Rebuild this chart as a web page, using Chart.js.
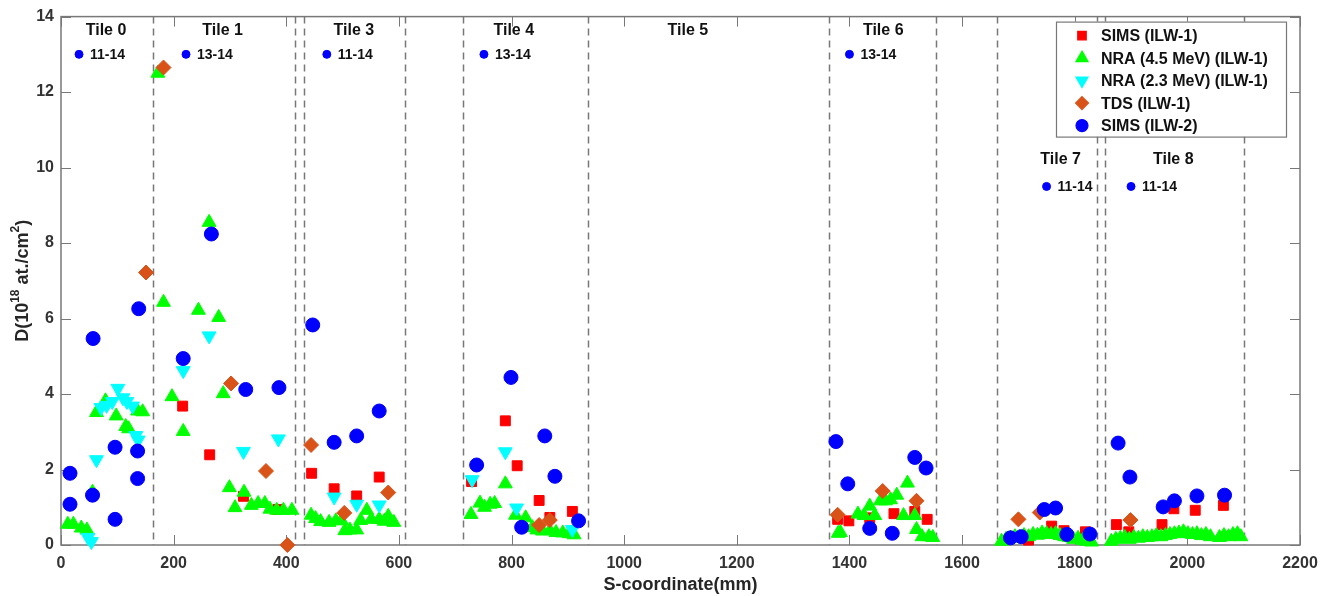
<!DOCTYPE html>
<html>
<head>
<meta charset="utf-8">
<script src="https://cdn.jsdelivr.net/npm/chart.js@4.4.0/dist/chart.umd.min.js"></script>
<style>
  html, body { margin: 0; padding: 0; background: #fff; }
</style>
</head>
<body>
<canvas id="chart" width="1328" height="596"></canvas>
<script>
// Values (S-coordinate in mm, D in 1e18 at./cm2)
const simsIlw1X = [216, 264, 324, 385, 445, 485, 525, 565, 729, 789, 810, 849, 868, 908,
    1379, 1399, 1436, 1479, 1516, 1538, 1718, 1759, 1781, 1819, 1874, 1896, 1955, 1976, 2014, 2064];
const simsIlw1Y = [3.68, 2.39, 1.29, 0.94, 1.90, 1.49, 1.30, 1.80, 1.68, 3.29, 2.10, 1.18, 0.73, 0.89,
    0.68, 0.64, 0.72, 0.83, 0.89, 0.68, 0.13, 0.50, 0.38, 0.35, 0.54, 0.35, 0.54, 0.96, 0.92, 1.05];

const nra45X = [12, 22, 36, 46, 56, 63, 79, 98, 115, 120, 136, 145,
    172, 182, 197, 217, 244, 263, 280, 288, 299, 309, 325, 338, 350, 362, 371, 383, 395, 410,
    444, 452, 461, 476, 488, 498, 504, 513, 525, 532, 543, 551, 565, 574, 581, 591,
    728, 744, 752, 762, 770, 789, 807, 825, 837, 845, 855, 868, 879, 891, 902, 911,
    1380, 1384, 1415, 1426, 1436, 1445, 1455, 1464, 1473, 1484, 1496, 1503, 1516, 1519, 1529, 1541, 1548,
    1670, 1678, 1686, 1694, 1702, 1710, 1718, 1726, 1734, 1742, 1750, 1758, 1766, 1774, 1782, 1790, 1798, 1806, 1814, 1822, 1830,
    1865, 1873, 1881, 1889, 1897, 1905, 1913, 1921, 1929, 1937, 1945, 1953, 1961, 1969, 1977, 1985, 1993, 2001, 2009, 2017, 2025, 2033, 2041, 2057, 2065, 2073, 2081, 2089, 2095];
const nra45Y = [0.55, 0.55, 0.45, 0.40, 1.40, 3.51, 3.82, 3.42, 3.14, 3.08, 3.55, 3.53,
    12.5, 6.43, 3.93, 3.01, 6.22, 8.55, 6.03, 4.01, 1.52, 0.99, 1.40, 1.05, 1.10, 1.10, 0.95, 0.92, 0.92, 0.92,
    0.79, 0.70, 0.62, 0.60, 0.64, 0.65, 0.38, 0.40, 0.40, 0.65, 0.92, 0.68, 0.68, 0.63, 0.76, 0.60,
    0.81, 1.11, 1.00, 1.08, 1.10, 1.62, 0.79, 0.72, 0.46, 0.40, 0.37, 0.38, 0.33, 0.32, 0.30, 0.27,
    0.31, 0.33, 0.82, 0.78, 1.03, 0.78, 1.17, 1.17, 1.20, 1.32, 0.78, 1.64, 0.78, 0.41, 0.22, 0.22, 0.20,
    0.10, 0.15, 0.18, 0.22, 0.20, 0.25, 0.22, 0.28, 0.26, 0.32, 0.30, 0.28, 0.30, 0.25, 0.22, 0.20, 0.15, 0.18, 0.12, 0.10, 0.08,
    0.10, 0.15, 0.18, 0.20, 0.15, 0.20, 0.18, 0.22, 0.20, 0.22, 0.25, 0.22, 0.25, 0.28, 0.30, 0.32, 0.35, 0.30, 0.28, 0.30, 0.25, 0.28, 0.22, 0.20, 0.25, 0.22, 0.28, 0.30, 0.22];

const nra23X = [48, 54, 63, 71, 81, 91, 101, 110, 117, 127, 133, 137,
    217, 263, 324, 386, 485, 525, 565, 730, 789, 809, 908];
const nra23Y = [0.20, 0.09, 2.26, 3.64, 3.70, 3.80, 4.15, 3.90, 3.80, 3.68, 2.90, 2.78,
    4.62, 5.54, 2.48, 2.81, 1.27, 1.08, 1.06, 1.73, 2.47, 0.98, 0.41];

const tdsX = [151, 182, 302, 364, 402, 444, 503, 581, 849, 868, 1379, 1459, 1519, 1700, 1738, 1899];
const tdsY = [7.22, 12.65, 4.28, 1.96, 0.0, 2.65, 0.85, 1.39, 0.53, 0.66, 0.80, 1.43, 1.17, 0.68, 0.86, 0.66];

const simsIlw2X = [16, 16, 57, 56, 96, 96, 138, 136, 136, 217, 267, 328, 387, 447, 485, 525, 565,
    738, 799, 818, 859, 877, 919, 1376, 1397, 1436, 1476, 1516, 1536,
    1686, 1705, 1746, 1766, 1786, 1827, 1877, 1898, 1957, 1977, 2017, 2066];
const simsIlw2Y = [1.90, 1.08, 5.47, 1.32, 2.59, 0.68, 6.26, 2.49, 1.76, 4.94, 8.24, 4.12, 4.17, 5.83, 2.72, 2.89, 3.55,
    2.12, 4.44, 0.47, 2.89, 1.82, 0.64, 2.74, 1.62, 0.44, 0.31, 2.32, 2.04,
    0.19, 0.22, 0.94, 0.98, 0.28, 0.29, 2.70, 1.80, 1.01, 1.17, 1.30, 1.32];

// tile boundaries (dashed lines)
const tileEdges = [163, 416, 431, 610, 713, 935, 1363, 1553, 1662, 1840, 1854, 2100];

// tile headings
const tileNames = ['Tile 0', 'Tile 1', 'Tile 3', 'Tile 4', 'Tile 5', 'Tile 6', 'Tile 7', 'Tile 8'];
const tileNameX = [80, 287, 520, 804, 1113, 1460, 1775, 1975];
const tileNameY = [13.63, 13.63, 13.63, 13.63, 13.63, 13.63, 10.22, 10.22];

// campaign markers under the headings
const campaignText = ['11-14', '13-14', '11-14', '13-14', '13-14', '11-14', '11-14'];
const campaignX = [32, 222, 472, 751, 1400, 1750, 1900];
const campaignY = [13, 13, 13, 13, 13, 9.5, 9.5];

const xTicks = [0, 200, 400, 600, 800, 1000, 1200, 1400, 1600, 1800, 2000, 2200];
const yTicks = [0, 2, 4, 6, 8, 10, 12, 14];

const FONT = '"Liberation Sans", Arial, sans-serif';
const AXIS_GRAY = '#787878';

function pts(xs, ys) {
    return xs.map((x, i) => ({ x: x, y: ys[i] }));
}

const datasets = [
    { label: 'SIMS (ILW-1)', data: pts(simsIlw1X, simsIlw1Y), pointStyle: 'rect', pointRadius: 7,
      backgroundColor: '#ff0000', borderColor: '#ff0000', order: 5 },
    { label: 'NRA (4.5 MeV) (ILW-1)', data: pts(nra45X, nra45Y), pointStyle: 'triangle', pointRadius: 8,
      backgroundColor: '#00ff00', borderColor: '#00ff00', order: 4 },
    { label: 'NRA (2.3 MeV) (ILW-1)', data: pts(nra23X, nra23Y), pointStyle: 'triangle', pointRotation: 180, pointRadius: 8,
      backgroundColor: '#00ffff', borderColor: '#00ffff', order: 3 },
    { label: 'TDS (ILW-1)', data: pts(tdsX, tdsY), pointStyle: 'rectRot', pointRadius: 7.5,
      backgroundColor: '#d95319', borderColor: '#d95319', order: 2 },
    { label: 'SIMS (ILW-2)', data: pts(simsIlw2X, simsIlw2Y), pointStyle: 'circle', pointRadius: 7,
      backgroundColor: '#0000ff', borderColor: '#0000ff', order: 1 },
    { label: 'campaign', data: pts(campaignX, campaignY), pointStyle: 'circle', pointRadius: 4,
      backgroundColor: '#0000ff', borderColor: '#0000ff', order: 0 }
];
datasets.forEach(d => { d.pointBorderWidth = 1; d.pointHoverRadius = d.pointRadius; d.clip = false; });

// dashed tile boundaries, under the markers
const tileLines = {
    id: 'tileLines',
    beforeDatasetsDraw(chart) {
        const { ctx, chartArea, scales } = chart;
        ctx.save();
        ctx.strokeStyle = AXIS_GRAY;
        ctx.lineWidth = 1.5;
        ctx.setLineDash([7, 5]);
        tileEdges.forEach(v => {
            const px = Math.round(scales.x.getPixelForValue(v)) + 0.5;
            ctx.beginPath();
            ctx.moveTo(px, chartArea.top);
            ctx.lineTo(px, chartArea.bottom);
            ctx.stroke();
        });
        ctx.restore();
    }
};

// box with inward ticks on all four sides
const frame = {
    id: 'frame',
    beforeDatasetsDraw(chart) {
        const { ctx, chartArea: a, scales } = chart;
        ctx.save();
        ctx.strokeStyle = AXIS_GRAY;
        ctx.lineWidth = 1.5;
        ctx.strokeRect(a.left, a.top, a.right - a.left, a.bottom - a.top);
        ctx.lineWidth = 1;
        ctx.beginPath();
        xTicks.forEach(v => {
            const px = Math.round(scales.x.getPixelForValue(v)) + 0.5;
            ctx.moveTo(px, a.bottom); ctx.lineTo(px, a.bottom - 10);
            ctx.moveTo(px, a.top); ctx.lineTo(px, a.top + 10);
        });
        yTicks.forEach(v => {
            const py = Math.round(scales.y.getPixelForValue(v)) + 0.5;
            ctx.moveTo(a.left, py); ctx.lineTo(a.left + 10, py);
            ctx.moveTo(a.right, py); ctx.lineTo(a.right - 10, py);
        });
        ctx.stroke();
        ctx.restore();
    }
};

// tile headings, campaign labels, legend box and y axis title
const annotations = {
    id: 'annotations',
    afterDraw(chart) {
        const { ctx, chartArea: a, scales } = chart;
        ctx.save();
        ctx.fillStyle = '#111';
        ctx.textBaseline = 'middle';
        ctx.textAlign = 'center';
        ctx.font = 'bold 16px ' + FONT;
        tileNames.forEach((t, i) => {
            ctx.fillText(t, scales.x.getPixelForValue(tileNameX[i]), scales.y.getPixelForValue(tileNameY[i]));
        });
        ctx.textAlign = 'left';
        ctx.font = 'bold 14px ' + FONT;
        campaignText.forEach((t, i) => {
            ctx.fillText(t, scales.x.getPixelForValue(campaignX[i]) + 11, scales.y.getPixelForValue(campaignY[i]) + 1);
        });

        // legend
        const bw = 230, bh = 115;
        const bx = a.right - 14 - bw, by = a.top + 5;
        ctx.fillStyle = '#fff';
        ctx.fillRect(bx, by, bw, bh);
        ctx.strokeStyle = AXIS_GRAY;
        ctx.lineWidth = 1.2;
        ctx.strokeRect(bx + 0.5, by + 0.5, bw, bh);
        ctx.font = 'bold 16px ' + FONT;
        datasets.slice(0, 5).forEach((d, i) => {
            const cy = by + 14 + i * 22.5;
            ctx.fillStyle = d.backgroundColor;
            ctx.strokeStyle = d.borderColor;
            Chart.helpers.drawPoint(ctx, {
                pointStyle: d.pointStyle,
                rotation: d.pointRotation || 0,
                radius: d.pointStyle === 'circle' ? 6 : d.pointRadius - 1,
                borderWidth: 1
            }, bx + 26, cy);
            ctx.fillStyle = '#111';
            ctx.fillText(d.label, bx + 45, cy + 1);
        });

        // y axis title with superscripts
        const parts = [['D(10', 18, 0], ['18', 12, -7], [' at./cm', 18, 0], ['2', 12, -7], [')', 18, 0]];
        let total = 0;
        parts.forEach(p => { ctx.font = 'bold ' + p[1] + 'px ' + FONT; total += ctx.measureText(p[0]).width; });
        ctx.translate(23, (a.top + a.bottom) / 2);
        ctx.rotate(-Math.PI / 2);
        let cx = -total / 2;
        ctx.fillStyle = '#262626';
        parts.forEach(p => {
            ctx.font = 'bold ' + p[1] + 'px ' + FONT;
            ctx.fillText(p[0], cx, p[2]);
            cx += ctx.measureText(p[0]).width;
        });
        ctx.restore();
    }
};

new Chart(document.getElementById('chart'), {
    type: 'scatter',
    data: { datasets: datasets },
    options: {
        responsive: false,
        animation: false,
        events: [],
        layout: { padding: { left: 0, right: 28, top: 13, bottom: 0 } },
        plugins: {
            legend: { display: false },
            tooltip: { enabled: false }
        },
        scales: {
            x: {
                type: 'linear',
                min: 0,
                max: 2200,
                afterBuildTicks: s => { s.ticks = xTicks.map(v => ({ value: v })); },
                afterFit: s => { s.height = 51; },
                grid: { drawOnChartArea: false, drawTicks: false },
                border: { display: false },
                ticks: {
                    padding: 9,
                    maxRotation: 0,
                    color: '#333',
                    callback: v => String(v),
                    font: { family: FONT, size: 16, weight: 'bold' }
                },
                title: {
                    display: true,
                    text: 'S-coordinate(mm)',
                    color: '#262626',
                    padding: { top: 2, bottom: 0 },
                    font: { family: FONT, size: 18, weight: 'bold' }
                }
            },
            y: {
                type: 'linear',
                min: 0,
                max: 14,
                afterBuildTicks: s => { s.ticks = yTicks.map(v => ({ value: v })); },
                afterFit: s => { s.width = 61; },
                grid: { drawOnChartArea: false, drawTicks: false },
                border: { display: false },
                ticks: {
                    padding: 7,
                    color: '#333',
                    callback: v => String(v),
                    font: { family: FONT, size: 16, weight: 'bold' }
                }
            }
        }
    },
    plugins: [tileLines, frame, annotations]
});
</script>
</body>
</html>
